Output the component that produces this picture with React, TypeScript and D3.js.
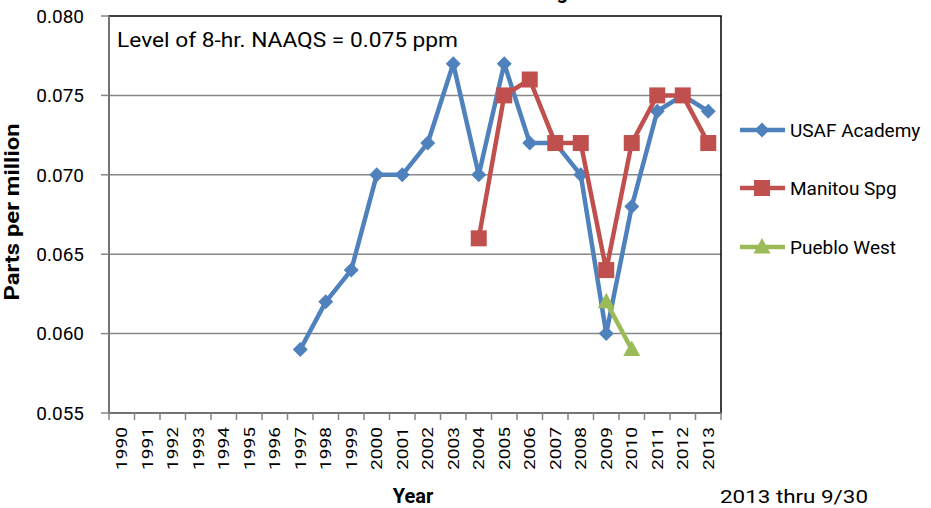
import React from 'react';
import * as d3 from 'd3';

const years = d3.range(1990, 2014).map(String);
const yTicks = [0.055, 0.06, 0.065, 0.07, 0.075, 0.08];

// values, one per year (null = no data)
const usafAcademy = [null, null, null, null, null, null, null, 0.059, 0.062, 0.064, 0.070, 0.070, 0.072, 0.077, 0.070, 0.077, 0.072, 0.072, 0.070, 0.060, 0.068, 0.074, 0.075, 0.074];
const manitouSpg = [null, null, null, null, null, null, null, null, null, null, null, null, null, null, 0.066, 0.075, 0.076, 0.072, 0.072, 0.064, 0.072, 0.075, 0.075, 0.072];
const puebloWest = [null, null, null, null, null, null, null, null, null, null, null, null, null, null, null, null, null, null, null, 0.062, 0.059, null, null, null];

const seriesNames = ['USAF Academy', 'Manitou Spg', 'Pueblo West'];
const seriesColors = ['#4F81BD', '#C0504D', '#9BBB59'];
const seriesMarkers = ['diamond', 'square', 'triangle'];

const FONT = 'Roboto, "Open Sans", sans-serif';

function marker(kind: string, x: number, y: number, color: string, key?: string | number) {
  if (kind === 'diamond') {
    const r = 7.5;
    return <path key={key} d={`M${x},${y - r}L${x + r},${y}L${x},${y + r}L${x - r},${y}Z`} fill={color} />;
  }
  if (kind === 'square') {
    return <rect key={key} x={x - 8} y={y - 8} width={16} height={16} fill={color} />;
  }
  return <path key={key} d={`M${x},${y - 9}L${x + 8.5},${y + 6.5}L${x - 8.5},${y + 6.5}Z`} fill={color} />;
}

export default function App() {
  const width = 931;
  const height = 508;
  const left = 109, right = 721, top = 16, bottom = 413;

  const x = d3.scaleBand().domain(years).range([left, right]);
  const y = d3.scaleLinear().domain([0.055, 0.08]).range([bottom, top]);
  const cx = (yr: string) => (x(yr) as number) + x.bandwidth() / 2;

  const allSeries = [usafAcademy, manitouSpg, puebloWest];
  const line = d3.line<number | null>()
    .defined(d => d !== null)
    .x((_, i) => cx(years[i]))
    .y(d => y(d as number));

  const legendY = [130, 188, 247];

  return (
    <svg width={width} height={height} style={{ position: 'absolute', left: 0, top: 0, background: '#fff' }} fontFamily={FONT}>
      {/* title, mostly cut off at the top edge */}
      <text x={568} y={-1} textAnchor="end" fontSize={20} fontWeight="bold" fill="#000">Ozone 4th Max Avg</text>

      {/* gridlines */}
      {yTicks.slice(1, -1).map(t => (
        <line key={t} x1={left} x2={right} y1={y(t)} y2={y(t)} stroke="#878787" strokeWidth={1.5} />
      ))}

      {/* plot border */}
      <rect x={left} y={top} width={right - left} height={bottom - top} fill="none" stroke="#000" strokeWidth={1.5} />

      {/* axes */}
      <line x1={left} x2={left} y1={top} y2={bottom} stroke="#868686" strokeWidth={1.5} />
      <line x1={left} x2={right} y1={bottom} y2={bottom} stroke="#868686" strokeWidth={1.5} />
      {yTicks.map(t => (
        <g key={t}>
          <line x1={left - 8} x2={left} y1={y(t)} y2={y(t)} stroke="#868686" strokeWidth={1.5} />
          <text x={84} y={y(t)} dy="0.36em" textAnchor="end" fontSize={19} fill="#000">{t.toFixed(3)}</text>
        </g>
      ))}
      {years.map(yr => (
        <line key={yr} x1={x(yr) as number} x2={x(yr) as number} y1={bottom} y2={bottom + 7} stroke="#868686" strokeWidth={1.5} />
      ))}
      <line x1={right} x2={right} y1={bottom} y2={bottom + 7} stroke="#868686" strokeWidth={1.5} />
      {years.map(yr => (
        <text key={yr} transform={`translate(${cx(yr)},427) rotate(-90)`} dy="0.36em" textAnchor="end"
          fontSize={15.5} textLength={43} lengthAdjust="spacingAndGlyphs" fill="#000">{yr}</text>
      ))}

      {/* axis titles */}
      <text x={413} y={503} textAnchor="middle" fontSize={20} fontWeight="bold" fill="#000">Year</text>
      <text transform="translate(19,212) rotate(-90)" textAnchor="middle" fontSize={20} fontWeight="bold"
        textLength={177} lengthAdjust="spacingAndGlyphs" fill="#000">Parts per million</text>
      <text x={720} y={503} fontSize={19} textLength={148} lengthAdjust="spacingAndGlyphs" fill="#000">2013 thru 9/30</text>

      {/* annotation */}
      <text x={117} y={47} fontSize={20} textLength={341} lengthAdjust="spacingAndGlyphs" fill="#000">Level of 8-hr. NAAQS = 0.075 ppm</text>

      {/* series */}
      {allSeries.map((s, si) => (
        <g key={si}>
          <path d={line(s) || ''} fill="none" stroke={seriesColors[si]} strokeWidth={4.5} strokeLinejoin="round" />
          {s.map((v, i) => v === null ? null : marker(seriesMarkers[si], cx(years[i]), y(v), seriesColors[si], i))}
        </g>
      ))}

      {/* legend */}
      {seriesNames.map((name, i) => (
        <g key={name}>
          <line x1={740} x2={785} y1={legendY[i]} y2={legendY[i]} stroke={seriesColors[i]} strokeWidth={4.5} />
          {marker(seriesMarkers[i], 762, legendY[i], seriesColors[i])}
          <text x={790} y={legendY[i]} dy="0.36em" fontSize={19} fill="#000">{name}</text>
        </g>
      ))}
    </svg>
  );
}
